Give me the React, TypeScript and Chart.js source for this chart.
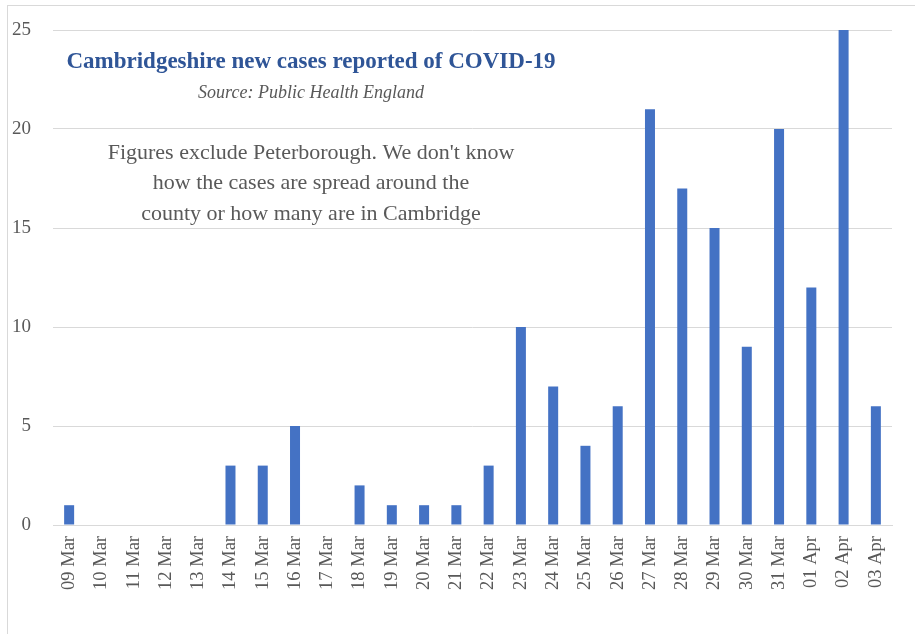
import React, { useEffect, useRef } from "react";
import { Chart, registerables } from "chart.js";

Chart.register(...registerables);

const categories = [
  "09 Mar", "10 Mar", "11 Mar", "12 Mar", "13 Mar", "14 Mar", "15 Mar", "16 Mar",
  "17 Mar", "18 Mar", "19 Mar", "20 Mar", "21 Mar", "22 Mar", "23 Mar", "24 Mar",
  "25 Mar", "26 Mar", "27 Mar", "28 Mar", "29 Mar", "30 Mar", "31 Mar", "01 Apr",
  "02 Apr", "03 Apr",
];
const newCases = [1, 0, 0, 0, 0, 3, 3, 5, 0, 2, 1, 1, 1, 3, 10, 7, 4, 6, 21, 17, 15, 9, 20, 12, 25, 6];
const yTicks = [0, 5, 10, 15, 20, 25];

const titleText = "Cambridgeshire new cases reported of COVID-19";
const subtitleText = "Source: Public Health England";
const noteLines = [
  "Figures exclude Peterborough. We don't know",
  "how the cases are spread around the",
  "county or how many are in Cambridge",
];

const FONT = "'Liberation Serif', 'Times New Roman', serif";

const decorPlugin = {
  id: "decor",
  beforeDraw(chart: any) {
    const ctx = chart.ctx;
    ctx.save();
    ctx.fillStyle = "#ffffff";
    ctx.fillRect(0, 0, chart.width, chart.height);
    ctx.strokeStyle = "#d9d9d9";
    ctx.lineWidth = 1;
    ctx.strokeRect(7.5, 5.5, chart.width + 10, chart.height + 10);
    ctx.restore();
  },
  afterDraw(chart: any) {
    const ctx = chart.ctx;
    ctx.save();
    ctx.textAlign = "center";
    ctx.textBaseline = "middle";
    const cx = 311;
    ctx.fillStyle = "#2F5597";
    ctx.font = `bold 23px ${FONT}`;
    ctx.fillText(titleText, cx, 62);
    ctx.fillStyle = "#595959";
    ctx.font = `italic 18px ${FONT}`;
    ctx.fillText(subtitleText, cx, 93);
    ctx.font = `22px ${FONT}`;
    noteLines.forEach((l, i) => ctx.fillText(l, cx, 153 + i * 30.5));
    ctx.restore();
  },
};

export default function App() {
  const ref = useRef<HTMLCanvasElement>(null);
  useEffect(() => {
    document.body.style.margin = "0";
    const chart = new Chart(ref.current!, {
      type: "bar",
      data: {
        labels: categories,
        datasets: [
          {
            data: newCases,
            backgroundColor: "#4472C4",
            barPercentage: 0.31,
            categoryPercentage: 1,
          },
        ],
      },
      options: {
        responsive: false,
        animation: false,
        devicePixelRatio: 1,
        layout: { padding: { left: 0, top: 30, right: 23, bottom: 0 } },
        plugins: { legend: { display: false }, tooltip: { enabled: false }, title: { display: false } },
        scales: {
          x: {
            grid: { display: false, drawTicks: false },
            border: { display: true, color: "#d9d9d9" },
            ticks: {
              color: "#595959",
              font: { family: FONT, size: 18.5 },
              maxRotation: 90,
              minRotation: 90,
              padding: 11,
              autoSkip: false,
            },
            afterFit(scale: any) {
              scale.height = 109;
              scale.paddingLeft = 0;
              scale.paddingRight = 0;
            },
          },
          y: {
            min: 0,
            max: 25,
            afterBuildTicks(scale: any) {
              scale.ticks = yTicks.map((v) => ({ value: v }));
            },
            grid: { color: "#d9d9d9", drawTicks: false },
            border: { display: false },
            ticks: {
              color: "#595959",
              font: { family: FONT, size: 19 },
              padding: 22,
            },
            afterFit(scale: any) {
              scale.width = 53;
              scale.paddingTop = 0;
              scale.paddingBottom = 0;
            },
          },
        },
      },
      plugins: [decorPlugin],
    });
    return () => chart.destroy();
  }, []);
  return <canvas ref={ref} width={915} height={634} style={{ display: "block" }} />;
}
